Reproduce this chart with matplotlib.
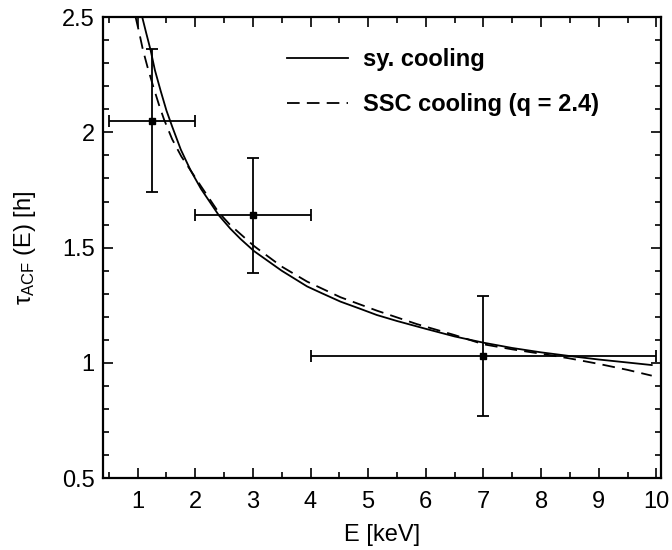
import matplotlib
matplotlib.use("Agg")
import matplotlib.pyplot as plt
from matplotlib.ticker import MultipleLocator

plt.rcParams['font.family'] = ['Liberation Sans', 'DejaVu Sans']
plt.rcParams['mathtext.fontset'] = 'custom'
plt.rcParams['mathtext.rm'] = 'Liberation Sans'
plt.rcParams['mathtext.it'] = 'Liberation Sans:italic'

# Data points with error bars
E_pts = [1.25, 3.0, 7.0]
tau_pts = [2.05, 1.64, 1.03]
E_lo = [0.5, 2.0, 4.0]
E_hi = [2.0, 4.0, 10.0]
tau_lo = [1.74, 1.39, 0.77]
tau_hi = [2.36, 1.89, 1.29]

# Model curves
sy_E = [1.08, 1.15, 1.225, 1.30, 1.40, 1.50, 1.60, 1.75, 1.92, 2.10, 2.41, 2.61,
        2.785, 3.02, 3.50, 3.94, 4.20, 4.52, 4.85, 5.15, 5.50, 6.00, 6.50, 7.00, 7.50, 8.00,
        8.50, 9.00, 9.50, 9.92]
sy_tau = [2.50, 2.43, 2.357, 2.27, 2.18, 2.095, 2.025, 1.925, 1.835, 1.755, 1.640, 1.582,
          1.538, 1.485, 1.400, 1.332, 1.302, 1.266, 1.236, 1.208, 1.182, 1.148, 1.115, 1.088,
          1.065, 1.046, 1.030, 1.015, 1.002, 0.991]

ssc_E = [0.965, 1.03, 1.09, 1.17, 1.27, 1.37, 1.46, 1.60, 1.76, 1.92, 2.09, 2.40,
         2.60, 2.785, 3.02, 3.50, 3.94, 4.52, 5.15, 5.84, 6.50, 7.00, 7.50, 8.00,
         8.49, 9.00, 9.50, 9.92]
ssc_tau = [2.50, 2.43, 2.36, 2.285, 2.20, 2.12, 2.055, 1.97, 1.895, 1.835, 1.77, 1.655,
           1.60, 1.559, 1.507, 1.418, 1.353, 1.285, 1.227, 1.169, 1.121, 1.081, 1.059, 1.040,
           1.020, 0.996, 0.970, 0.945]

FS = 17

fig = plt.figure(figsize=(6.72, 5.5), dpi=100)
ax = fig.add_axes([0.1533, 0.1304, 0.8303, 0.8386])

xerr = [[p - lo for p, lo in zip(E_pts, E_lo)], [hi - p for p, hi in zip(E_pts, E_hi)]]
yerr = [[p - lo for p, lo in zip(tau_pts, tau_lo)], [hi - p for p, hi in zip(tau_pts, tau_hi)]]

ax.plot(sy_E, sy_tau, color='black', lw=1.3, label='sy. cooling')
ax.plot(ssc_E, ssc_tau, color='black', lw=1.3, ls=(0, (7, 4)), label='SSC cooling (q = 2.4)')
ax.errorbar(E_pts, tau_pts, xerr=xerr, yerr=yerr, fmt='s', color='black', ms=5,
            ecolor='black', elinewidth=1.3, capsize=4.5, capthick=1.3, zorder=3)

ax.set_xlim(0.4, 10.08)
ax.set_ylim(0.5, 2.5)
ax.xaxis.set_major_locator(MultipleLocator(1))
ax.xaxis.set_minor_locator(MultipleLocator(0.5))
ax.yaxis.set_minor_locator(MultipleLocator(0.1))
ax.set_yticks([0.5, 1.0, 1.5, 2.0, 2.5])
ax.set_yticklabels(['0.5', '1', '1.5', '2', '2.5'])

ax.tick_params(which='both', direction='in', top=True, right=True, labelsize=FS,
               width=1.2, colors='black')
ax.tick_params(which='major', length=7)
ax.tick_params(which='minor', length=4)
ax.tick_params(axis='x', which='major', pad=9)
ax.tick_params(axis='y', which='major', pad=6)
for s in ax.spines.values():
    s.set_linewidth(1.6)

ax.set_xlabel('E [keV]', fontsize=FS, labelpad=8)
ax.set_ylabel(r'τ$_{\rm ACF}$ (E) [h]', fontsize=FS, labelpad=17)

leg = ax.legend(loc='upper left', frameon=False, handlelength=2.58,
                handletextpad=0.64, labelspacing=0.91, borderaxespad=0.0, borderpad=0.0,
                bbox_to_anchor=(0.329, 0.932), prop={'weight': 'bold', 'size': FS})

fig.savefig('out.png', dpi=100)
